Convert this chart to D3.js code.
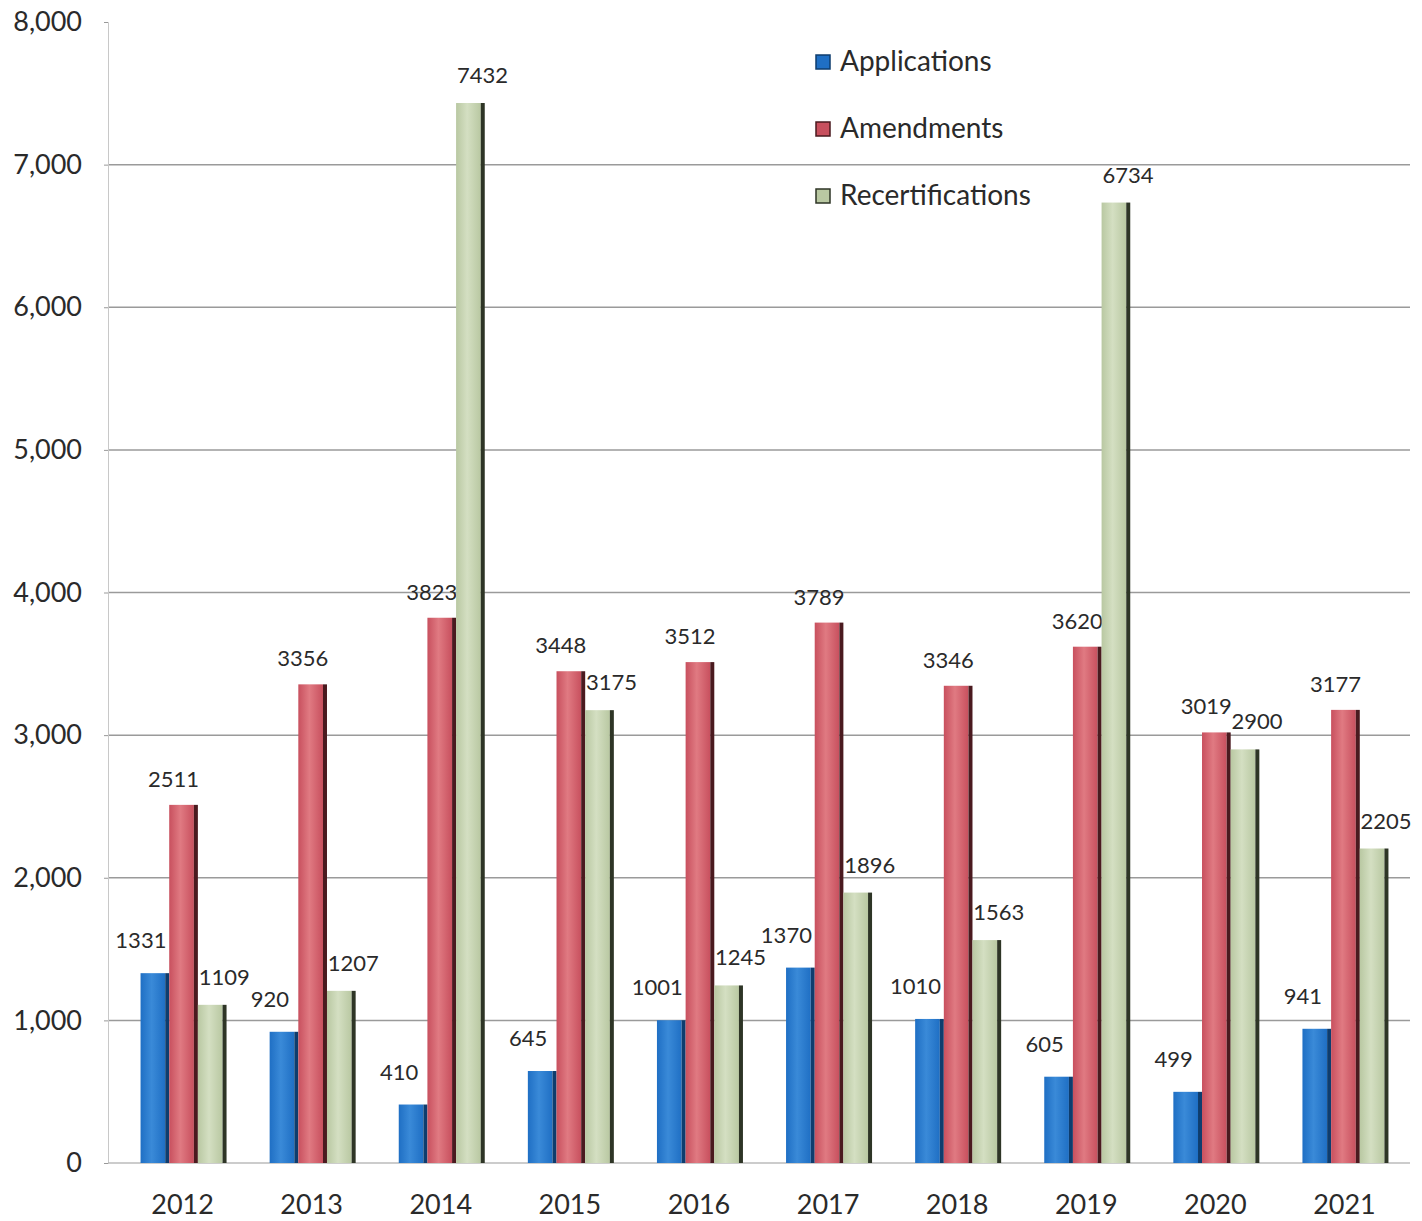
<!DOCTYPE html>
<html>
<head>
<meta charset="utf-8">
<script src="https://cdn.jsdelivr.net/npm/d3@7"></script>
<style>
  body { margin: 0; background: #fff; }
  svg { display: block; font-family: Lato, "Open Sans", sans-serif; }
</style>
</head>
<body>
<div id="chart"></div>
<script>
// chart values
var years = ["2012", "2013", "2014", "2015", "2016", "2017", "2018", "2019", "2020", "2021"];
var applications = [1331, 920, 410, 645, 1001, 1370, 1010, 605, 499, 941];
var amendments = [2511, 3356, 3823, 3448, 3512, 3789, 3346, 3620, 3019, 3177];
var recertifications = [1109, 1207, 7432, 3175, 1245, 1896, 1563, 6734, 2900, 2205];
var seriesNames = ["Applications", "Amendments", "Recertifications"];
var yTicks = [0, 1000, 2000, 3000, 4000, 5000, 6000, 7000, 8000];

var width = 1422, height = 1221;
var margin = {top: 22, right: 12, bottom: 58, left: 108};

var svg = d3.select("#chart").append("svg")
    .attr("width", width)
    .attr("height", height);

var x = d3.scaleBand()
    .domain(years)
    .range([118, 1409]);

var sub = d3.scaleBand()
    .domain(seriesNames)
    .range([0, 86])
    .padding(0);

var y = d3.scaleLinear()
    .domain([0, 8000])
    .range([height - margin.bottom, margin.top]);

// grid lines (none at the top)
svg.append("g")
  .selectAll("line")
  .data(yTicks.filter(d => d > 0 && d < 8000))
  .join("line")
    .attr("x1", margin.left)
    .attr("x2", 1410)
    .attr("y1", d => y(d))
    .attr("y2", d => y(d))
    .attr("stroke", "#9a9a9a")
    .attr("stroke-width", 1.5);

// y axis
var yAxis = svg.append("g")
    .attr("transform", `translate(${margin.left},0)`)
    .call(d3.axisLeft(y).tickValues(yTicks).tickFormat(d3.format(",")).tickSize(4).tickPadding(22));
yAxis.select(".domain").attr("stroke", "#c8c8c8");
yAxis.selectAll(".tick line").attr("stroke", "#999");
yAxis.selectAll("text")
    .attr("fill", "#2a2a2a")
    .style("font-size", "27px")
    .style("font-family", "Lato, 'Open Sans', sans-serif");

// x baseline
svg.append("line")
    .attr("x1", margin.left)
    .attr("x2", 1410)
    .attr("y1", y(0))
    .attr("y2", y(0))
    .attr("stroke", "#bbb")
    .attr("stroke-width", 1.5);

// x axis labels
var xAxis = svg.append("g")
    .attr("transform", `translate(0,${y(0)})`)
    .call(d3.axisBottom(x).tickSize(0).tickPadding(32));
xAxis.select(".domain").remove();
xAxis.selectAll("text")
    .attr("fill", "#2a2a2a")
    .style("font-size", "27px")
    .style("font-family", "Lato, 'Open Sans', sans-serif");

var colors = {
  Applications: {main: "#1f6fc4", light: "#3a8ad8", side: "#0e3d6e"},
  Amendments: {main: "#c8505e", light: "#e07a82", side: "#4a1a1f"},
  Recertifications: {main: "#b9c8a2", light: "#d4dfc2", side: "#2e3526"}
};

var seriesValues = {
  Applications: applications,
  Amendments: amendments,
  Recertifications: recertifications
};

var groupOffset = (x.bandwidth() - 86) / 2 + 1;

var defs = svg.append("defs");
seriesNames.forEach(function(s, i) {
  var g = defs.append("linearGradient")
      .attr("id", "grad" + i)
      .attr("x1", "0%").attr("x2", "100%");
  g.append("stop").attr("offset", "0%").attr("stop-color", colors[s].main);
  g.append("stop").attr("offset", "45%").attr("stop-color", colors[s].light);
  g.append("stop").attr("offset", "100%").attr("stop-color", colors[s].main);
});

var labelDx = {Applications: -14, Amendments: -10, Recertifications: 12};
var labelDy = {Applications: -25, Amendments: -18, Recertifications: -20};

seriesNames.forEach(function(s, i) {
  var data = years.map((yr, j) => ({year: yr, value: seriesValues[s][j]}));
  var g = svg.append("g");
  var bw = sub.bandwidth();
  // main face
  g.selectAll("rect.face")
    .data(data)
    .join("rect")
      .attr("class", "face")
      .attr("x", d => x(d.year) + groupOffset + sub(s))
      .attr("y", d => y(d.value))
      .attr("width", bw - 4)
      .attr("height", d => y(0) - y(d.value))
      .attr("fill", "url(#grad" + i + ")");
  // dark side
  g.selectAll("rect.side")
    .data(data)
    .join("rect")
      .attr("class", "side")
      .attr("x", d => x(d.year) + groupOffset + sub(s) + bw - 4)
      .attr("y", d => y(d.value))
      .attr("width", 4)
      .attr("height", d => y(0) - y(d.value))
      .attr("fill", colors[s].side);
  // labels
  g.selectAll("text")
    .data(data)
    .join("text")
      .attr("x", d => x(d.year) + groupOffset + sub(s) + bw / 2 + labelDx[s])
      .attr("y", d => y(d.value) + labelDy[s])
      .attr("text-anchor", "middle")
      .attr("fill", "#2a2a2a")
      .style("font-size", "22px")
      .text(d => d.value);
});

// legend
var legend = svg.append("g").attr("transform", "translate(816,62)");
seriesNames.forEach(function(s, i) {
  var row = legend.append("g").attr("transform", `translate(0,${i * 67})`);
  row.append("rect")
      .attr("x", 0).attr("y", -7)
      .attr("width", 14).attr("height", 14)
      .attr("fill", colors[s].main)
      .attr("stroke", colors[s].side)
      .attr("stroke-width", 1.5);
  row.append("text")
      .attr("x", 24)
      .attr("y", 9)
      .attr("fill", "#2a2a2a")
      .style("font-size", "28px")
      .text(s);
});
</script>
</body>
</html>
